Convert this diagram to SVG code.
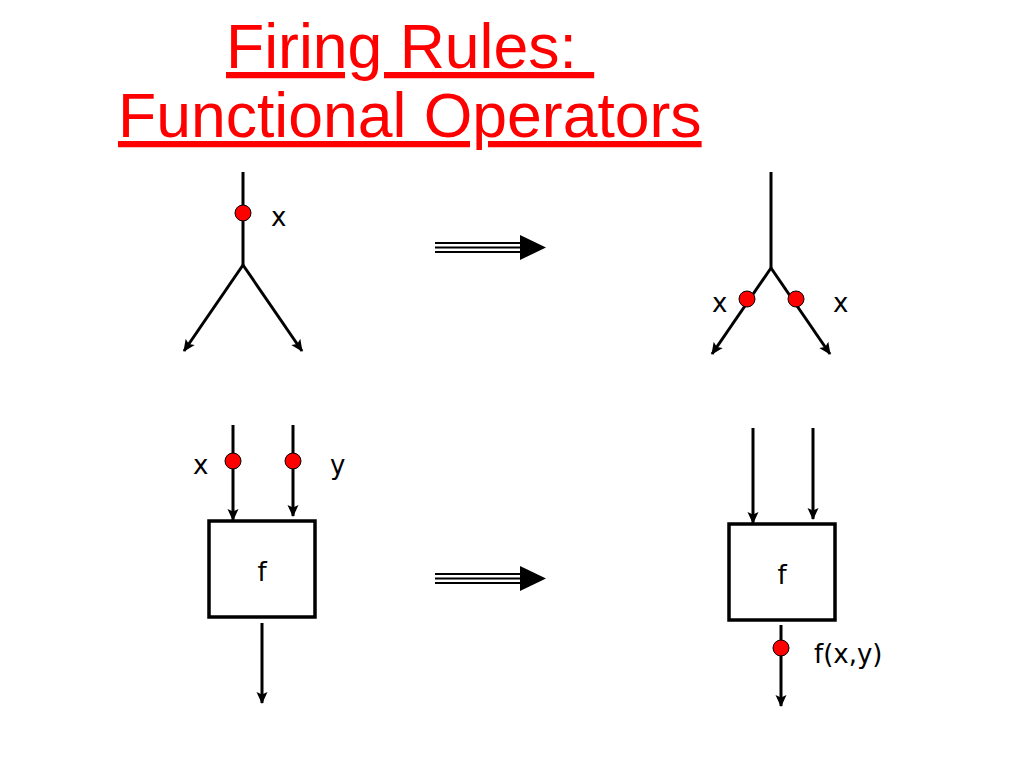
<svg xmlns="http://www.w3.org/2000/svg" width="1024" height="768" viewBox="0 0 1024 768">
<style>
.title{font-family:"Liberation Sans",Arial,sans-serif;font-size:62.5px;fill:#ff0000;text-decoration:underline}
.lbl{font-family:"DejaVu Sans",Verdana,sans-serif;font-size:26px;fill:#000}
.ln{stroke:#000;stroke-width:3;fill:none}
.arr{stroke:#000;stroke-width:3;fill:none;marker-end:url(#ah)}
.tok{fill:#ff0000;stroke:#000;stroke-width:1}
.box{fill:#fff;stroke:#000;stroke-width:3.5}
.dbl{stroke:#000;stroke-width:2;fill:none}
</style>
<defs>
<marker id="ah" markerWidth="12" markerHeight="12" refX="11" refY="6" orient="auto" markerUnits="userSpaceOnUse">
<path d="M0,0.5 L12,6 L0,11.5 L2.5,6 Z" fill="#000"/>
</marker>
</defs>
<rect width="1024" height="768" fill="#fff"/>
<text class="title" x="226" y="68">Firing Rules:&#160;</text>
<text class="title" x="118" y="137">Functional Operators</text>

<g id="connectors">
<line class="ln" x1="243" y1="172" x2="243" y2="266"/>
<line class="arr" x1="243" y1="265" x2="184" y2="351"/>
<line class="arr" x1="243" y1="265" x2="302" y2="351"/>
<line class="ln" x1="771" y1="172" x2="771" y2="269"/>
<line class="arr" x1="771" y1="268" x2="712" y2="354"/>
<line class="arr" x1="771" y1="268" x2="830" y2="354"/>
<line class="arr" x1="233" y1="425" x2="233" y2="520"/>
<line class="arr" x1="293" y1="425" x2="293" y2="516"/>
<line class="arr" x1="262" y1="623" x2="262" y2="703"/>
<line class="arr" x1="753" y1="428" x2="753" y2="523"/>
<line class="arr" x1="813" y1="428" x2="813" y2="519"/>
<line class="arr" x1="781" y1="625" x2="781" y2="706"/>
</g>

<g id="token-top-left">
<circle class="tok" cx="243" cy="213" r="8"/>
<text class="lbl" x="271" y="226">x</text>
</g>
<g id="tokens-top-right">
<circle class="tok" cx="747" cy="299" r="8"/>
<circle class="tok" cx="796" cy="299" r="8"/>
<text class="lbl" x="712" y="312">x</text>
<text class="lbl" x="833" y="312">x</text>
</g>

<g id="transition-top">
<line class="dbl" x1="435" y1="243" x2="522" y2="243"/>
<line class="dbl" x1="435" y1="247.5" x2="522" y2="247.5"/>
<line class="dbl" x1="435" y1="252" x2="522" y2="252"/>
<path d="M520,235 L546,247.5 L520,260 Z" fill="#000"/>
</g>
<g id="transition-bottom">
<line class="dbl" x1="435" y1="574" x2="522" y2="574"/>
<line class="dbl" x1="435" y1="578.5" x2="522" y2="578.5"/>
<line class="dbl" x1="435" y1="583" x2="522" y2="583"/>
<path d="M520,566 L546,578.5 L520,591 Z" fill="#000"/>
</g>

<g id="node-f-left">
<rect class="box" x="209" y="521" width="106" height="96"/>
<text class="lbl" x="262" y="581" text-anchor="middle">f</text>
<circle class="tok" cx="233" cy="461" r="8"/>
<circle class="tok" cx="293" cy="461" r="8"/>
<text class="lbl" x="193" y="474">x</text>
<text class="lbl" x="330" y="474">y</text>
</g>

<g id="node-f-right">
<rect class="box" x="729" y="524" width="106" height="96"/>
<text class="lbl" x="782" y="584" text-anchor="middle">f</text>
<circle class="tok" cx="781" cy="648" r="8"/>
<text class="lbl" x="814" y="663">f(x,y)</text>
</g>
</svg>
